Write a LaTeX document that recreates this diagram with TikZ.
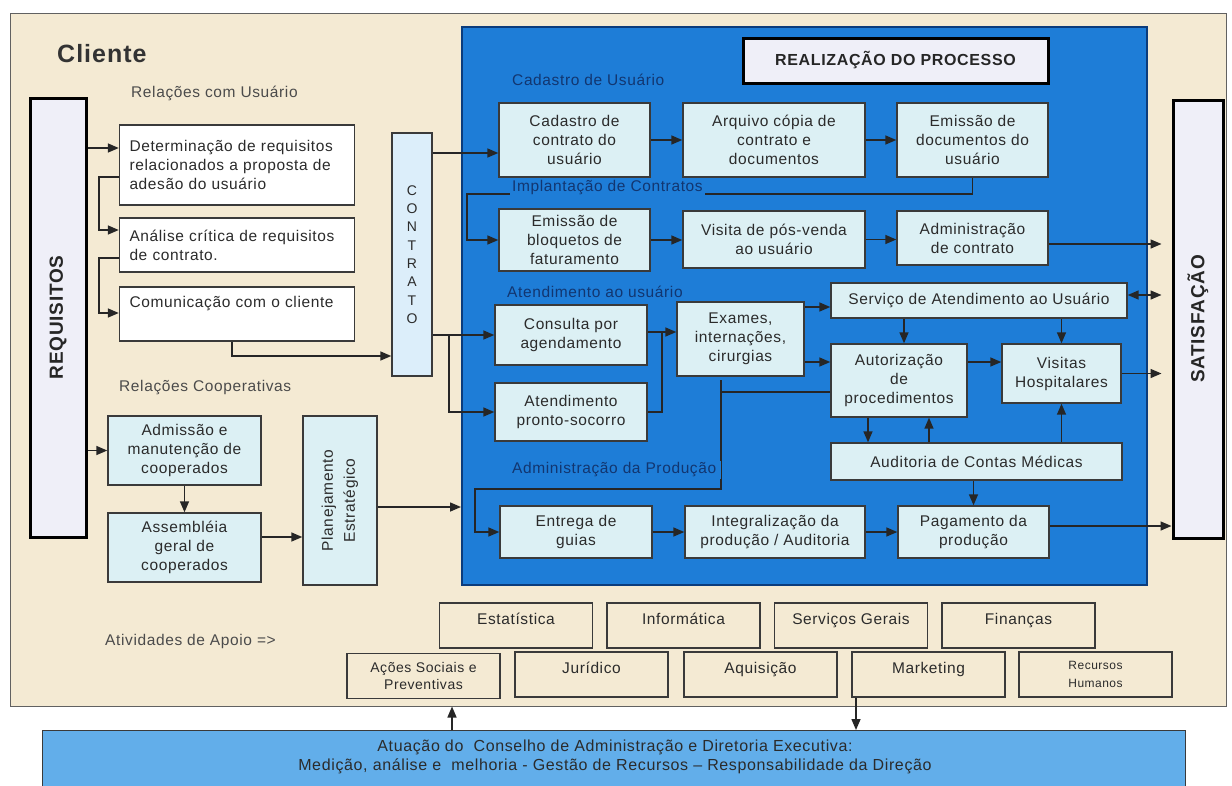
\documentclass[tikz,border=0pt]{standalone}
\usepackage{fontspec}
\setmainfont{Liberation Sans}[LetterSpace=4]
\usepackage{graphicx}
\usepackage{tikz}
\usetikzlibrary{arrows.meta}
\definecolor{crema}{HTML}{F4EAD3}
\definecolor{blu}{HTML}{1E7DD7}
\definecolor{bluscuro}{HTML}{0B3C7C}
\definecolor{azzurro}{HTML}{DCF0F4}
\definecolor{lavanda}{HTML}{EFEFF8}
\definecolor{celeste}{HTML}{DCEEFA}
\definecolor{cielo}{HTML}{62AEEA}
\definecolor{bordo}{HTML}{3A3A3A}
\definecolor{testo}{HTML}{2B2B2B}
\definecolor{navy}{HTML}{123670}
\newcommand{\corpo}{\fontsize{15.5}{19}\selectfont}

\begin{document}
\begin{tikzpicture}[x=1pt, y=-1pt,
    casella/.style={draw=bordo, line width=1.4pt, text=testo, inner sep=0pt, align=center, font=\corpo},
    chiaro/.style={casella, fill=azzurro},
    bianco/.style={casella, fill=white, align=left, inner xsep=10pt, text width=215pt},
    apoio/.style={casella, line width=1.2pt, minimum width=153pt, minimum height=45pt, text height=12pt, text depth=14pt},
    apoiodue/.style={casella, line width=1.2pt, minimum width=153pt, minimum height=45pt},
    spesso/.style={draw=black, line width=3pt, fill=lavanda, inner sep=0pt, text=black!85, font=\fontsize{19}{22}\selectfont\bfseries},
    sezione/.style={fill=blu, text=navy, inner sep=2pt, anchor=west, font=\corpo},
    nota/.style={text=testo!85, inner sep=0pt, anchor=west, font=\corpo},
    linea/.style={draw=black!85, line width=1.5pt},
    freccia/.style={linea, -{Triangle[length=11pt, width=9pt]}}]

        % sfondo e margini
        \fill[white] (0,0) rectangle (1232,785);
        \clip (0,0) rectangle (1232,785);

        % Cliente (pannello crema)
        \node[draw=bordo!80, line width=1pt, fill=crema, minimum width=1216pt, minimum height=693pt, inner sep=0pt] (cliente) at (618,359.5) {};
        \node[nota, text=black!80, font=\fontsize{25}{28}\selectfont\bfseries] (titcliente) at (57,54) {Cliente};

        % Realizzazione del processo (pannello blu)
        \node[draw=bluscuro, line width=2pt, fill=blu, minimum width=685pt, minimum height=558pt, inner sep=0pt] (processo) at (804.5,306) {};
        \node[spesso, minimum width=305pt, minimum height=45pt, font=\fontsize{16}{19}\selectfont\bfseries] (realiz) at (895.5,60.5) {REALIZAÇÃO DO PROCESSO};

        % Requisiti e soddisfazione
        \node[spesso, minimum width=56pt, minimum height=439pt] (req) at (58,317.5) {\rotatebox{90}{REQUISITOS}};
        \node[spesso, minimum width=50pt, minimum height=438pt] (sat) at (1198,319) {\rotatebox{90}{SATISFAÇÃO}};

        % Relazioni con l'utente
        \node[nota] (relus) at (131,93) {Relações com Usuário};
        \node[bianco, minimum height=80pt] (det) at (237,165) {Determinação de requisitos\\relacionados a proposta de\\adesão do usuário};
        \node[bianco, minimum height=54pt] (anal) at (237,245) {Análise crítica de requisitos\\de contrato.};
        \node[bianco, minimum height=54pt, text depth=24pt] (comun) at (237,314) {Comunicação com o cliente};
        \node[casella, fill=celeste, minimum width=40pt, minimum height=243pt, font=\fontsize{14}{18.3}\selectfont] (contr) at (412,254.5) {C\\O\\N\\T\\R\\A\\T\\O};

        % Relazioni cooperative
        \node[nota] (relcoop) at (119,388) {Relações Cooperativas};
        \node[chiaro, minimum width=153pt, minimum height=69pt] (adm) at (184.5,450.5) {Admissão e\\manutenção de\\cooperados};
        \node[chiaro, minimum width=153pt, minimum height=69pt] (assem) at (184.5,547.5) {Assembléia\\geral de\\cooperados};
        \node[chiaro, minimum width=74pt, minimum height=169pt] (plan) at (340,500.5) {\rotatebox{90}{\begin{tabular}{@{}c@{}}Planejamento\\[3pt]Estratégico\end{tabular}}};

        % Cadastro e contratti
        \node[chiaro, minimum width=151pt, minimum height=74pt] (cadc) at (574.5,140) {Cadastro de\\contrato do\\usuário};
        \node[chiaro, minimum width=182pt, minimum height=74pt] (arq) at (774,140) {Arquivo cópia de\\contrato e\\documentos};
        \node[chiaro, minimum width=151pt, minimum height=74pt] (emdoc) at (972.5,140) {Emissão de\\documentos do\\usuário};
        \node[chiaro, minimum width=151pt, minimum height=62pt] (bloq) at (574.5,240) {Emissão de\\bloquetos de\\faturamento};
        \node[chiaro, minimum width=182pt, minimum height=57pt] (visita) at (774,239.5) {Visita de pós-venda\\ao usuário};
        \node[chiaro, minimum width=151pt, minimum height=54pt] (admc) at (972.5,238) {Administração\\de contrato};

        % Atendimento
        \node[chiaro, minimum width=152pt, minimum height=60pt] (consulta) at (571,335) {Consulta por\\agendamento};
        \node[chiaro, minimum width=152pt, minimum height=58pt] (pronto) at (571,412) {Atendimento\\pronto-socorro};
        \node[chiaro, minimum width=127pt, minimum height=74pt] (exames) at (740.5,339) {Exames,\\internações,\\cirurgias};
        \node[chiaro, minimum width=296pt, minimum height=35pt] (sac) at (979,300.5) {Serviço de Atendimento ao Usuário};
        \node[chiaro, minimum width=136pt, minimum height=73pt] (autor) at (899,380.5) {Autorização\\de\\procedimentos};
        \node[chiaro, minimum width=119pt, minimum height=59pt] (visit) at (1061.5,373.5) {Visitas\\Hospitalares};
        \node[chiaro, minimum width=291pt, minimum height=37pt] (audit) at (976.5,461.5) {Auditoria de Contas Médicas};

        % Produzione
        \node[chiaro, minimum width=152pt, minimum height=52pt] (entrega) at (576,532) {Entrega de\\guias};
        \node[chiaro, minimum width=180pt, minimum height=52pt] (integr) at (775,532) {Integralização da\\produção / Auditoria};
        \node[chiaro, minimum width=151pt, minimum height=52pt] (pagto) at (973.5,532) {Pagamento da\\produção};

        % Attività di supporto
        \node[nota] (apoiotit) at (105,641) {Atividades de Apoio =>};
        \node[apoio] (estat) at (516,625.5) {Estatística};
        \node[apoio] (inform) at (683.5,625.5) {Informática};
        \node[apoio] (servg) at (851,625.5) {Serviços Gerais};
        \node[apoio] (financ) at (1018.5,625.5) {Finanças};
        \node[apoiodue, font=\fontsize{14}{17}\selectfont] (acoes) at (423.5,676) {Ações Sociais e\\Preventivas};
        \node[apoio] (jurid) at (591.5,674.5) {Jurídico};
        \node[apoio] (aquis) at (760.5,674.5) {Aquisição};
        \node[apoio] (market) at (928.5,674.5) {Marketing};
        \node[apoiodue, font=\fontsize{12}{18}\selectfont] (rh) at (1095.5,674.5) {Recursos\\Humanos};

        % Consiglio di amministrazione
        \node[draw=bordo, line width=1.2pt, fill=cielo, minimum width=1143pt, minimum height=80pt, inner sep=0pt, anchor=north west] (consiglio) at (42,730) {};
        \node[text=testo, font=\fontsize{16}{19}\selectfont, align=center, inner sep=0pt] (consigliotxt) at (615,757) {Atuação do\ \ Conselho de Administração e Diretoria Executiva:\\Medição, análise e\ \ melhoria - Gestão de Recursos -- Responsabilidade da Direção};

        % Frecce lato cliente
        \draw[freccia] (req.east |- 0,148) -- (det.west |- 0,148);
        \draw[freccia] (det.west |- 0,177) -- ++(-20,0) |- (anal.west |- 0,230);
        \draw[freccia] (anal.west |- 0,258) -- ++(-20,0) |- (comun.west |- 0,313);
        \draw[freccia] (comun.south -| 232,0) |- (contr.west |- 0,356);
        \draw[freccia] (req.east |- adm.west) -- (adm.west);
        \draw[freccia] (adm.south) -- (assem.north);
        \draw[freccia] (assem.east |- 0,537) -- (plan.west |- 0,537);
        \draw[freccia] (plan.east |- 0,507) -- (processo.west |- 0,507);

        % Frecce dal contratto
        \draw[freccia] (contr.east |- 0,153) -- (cadc.west |- 0,153);
        \draw[freccia] (contr.east |- consulta.west) -- (consulta.west);
        \coordinate (biforca) at (449,335);
        \draw[freccia] (biforca) |- (pronto.west);

        % Frecce nel processo
        \draw[freccia] (cadc.east) -- (arq.west);
        \draw[freccia] (arq.east) -- (emdoc.west);
        \coordinate (implant) at (467,194);
        \draw[freccia] (emdoc.south) |- (implant) |- (bloq.west);
        \draw[freccia] (bloq.east) -- (bloq.east -| visita.west);
        \draw[freccia] (visita.east) -- (visita.east -| admc.west);
        \draw[freccia, shorten >=10pt] (admc.east |- 0,244) -- (sat.west |- 0,244);
        \draw[freccia] (consulta.east |- 0,332) -- (exames.west |- 0,332);
        \draw[linea] (pronto.east) -| (662,332);
        \draw[freccia] (exames.east |- 0,307) -- (sac.west |- 0,307);
        \draw[freccia] (exames.east |- 0,362) -- (autor.west |- 0,362);
        \draw[linea] (autor.west |- 0,392) -- (721,392);
        \coordinate (prodsu) at (721,380);
        \coordinate (prodgiu) at (475,489);
        \draw[freccia] (prodsu) |- (prodgiu) |- (entrega.west);
        \draw[freccia] (sac.south -| 904,0) -- (autor.north -| 904,0);
        \draw[freccia] (sac.south -| visit) -- (visit.north);
        \draw[freccia] (autor.east |- 0,362) -- (visit.west |- 0,362);
        \draw[freccia] (autor.south -| 868,0) -- (audit.north -| 868,0);
        \draw[freccia] (audit.north -| 929,0) -- (autor.south -| 929,0);
        \draw[freccia] (audit.north -| visit) -- (visit.south);
        \draw[freccia] (audit.south -| pagto) -- (pagto.north);
        \draw[freccia] (entrega.east) -- (integr.west);
        \draw[freccia] (integr.east) -- (pagto.west);
        \draw[freccia] (pagto.east |- 0,526) -- (sat.west |- 0,526);
        \draw[freccia, shorten >=10pt] (visit.east) -- (visit.east -| sat.west);
        \draw[linea, {Triangle[length=11pt, width=9pt]}-{Triangle[length=11pt, width=9pt]}, shorten >=10pt] (sac.east |- 0,295) -- (sat.west |- 0,295);

        % Frecce del consiglio
        \draw[freccia] (consiglio.north -| 452,0) -- (cliente.south -| 452,0);
        \draw[freccia] (market.south -| 856,0) -- (consiglio.north -| 856,0);

        % Etichette delle sezioni
        \node[sezione] (seccad) at (510,80) {Cadastro de Usuário};
        \node[sezione] (secimp) at (510,188) {Implantação de Contratos};
        \node[sezione] (secatd) at (505,292) {Atendimento ao usuário};
        \node[sezione, inner xsep=5pt] (secprod) at (507,470) {Administração da Produção};
    \end{tikzpicture}
\end{document}
